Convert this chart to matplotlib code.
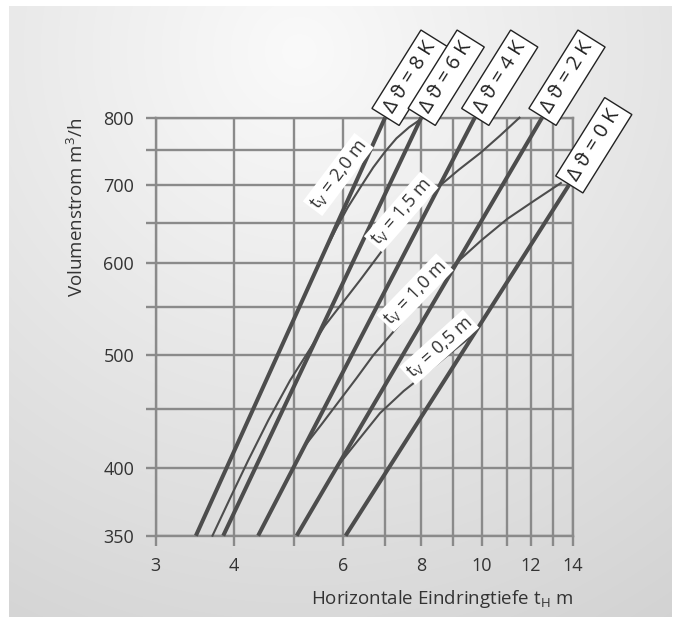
import numpy as np
import matplotlib.pyplot as plt
import matplotlib.ticker as mticker

plt.rcParams.update({
    "font.family": ["Open Sans", "DejaVu Sans"],
    "mathtext.default": "regular",
    "font.size": 13,
})

GRID_GREY = "#8a8a8a"
LINE_GREY = "#4d4d4d"
TEXT_GREY = "#333333"

# Temperature difference lines, straight in log-log: t_H [m] vs V [m3/h]
DT_LABELS = ["Δ ϑ = 8 K", "Δ ϑ = 6 K", "Δ ϑ = 4 K", "Δ ϑ = 2 K", "Δ ϑ = 0 K"]
DT_TH = [[3.48, 7.0], [3.85, 8.0], [4.38, 9.75], [5.05, 12.5], [6.05, 13.8]]
DT_V = [[350, 800], [350, 800], [350, 800], [350, 800], [350, 700]]

# Vertical penetration curves
TV_LABELS = ["t$_V$ = 2,0 m", "t$_V$ = 1,5 m", "t$_V$ = 1,0 m", "t$_V$ = 0,5 m"]
TV_TH = [
    [5.6, 5.85, 6.1, 6.4, 6.7, 7.0, 7.3, 7.65, 7.97],
    [3.70, 3.95, 4.22, 4.55, 4.93, 5.6, 6.38, 7.4, 8.48, 9.2, 9.95, 10.7, 11.5],
    [5.24, 5.55, 5.93, 6.3, 6.7, 7.8, 9.1, 10.0, 11.0, 12.2, 13.4],
    [5.86, 6.3, 6.87, 7.5, 8.2, 8.9, 9.7],
]
TV_V = [
    [614, 643, 670, 698, 725, 748, 768, 785, 797],
    [350, 377, 406, 440, 476, 530, 580, 645, 696, 722, 746, 772, 800],
    [420, 437, 458, 478, 500, 550, 600, 628, 655, 680, 703],
    [401, 421, 446, 466, 484, 502, 521],
]

X_TICKS = [3, 4, 5, 6, 7, 8, 9, 10, 11, 12, 13, 14]
X_LABELED = [3, 4, 6, 8, 10, 12, 14]
Y_TICKS = [350, 400, 450, 500, 550, 600, 650, 700, 750, 800]
Y_LABELED = [350, 400, 500, 600, 700, 800]

# label placement (t_H, V, rotation)
TV_LABEL_POS = [(5.89, 715, 53), (7.43, 664, 49), (7.82, 566, 46), (8.55, 508, 42)]
BOX_ANGLE = 58

fig = plt.figure(figsize=(6.8, 6.23), dpi=100, facecolor="white")

# soft grey backdrop panel
bg = fig.add_axes([9 / 680, 6 / 623, 663 / 680, 611 / 623], zorder=-5)
h, w = 611, 663
yy, xx = np.mgrid[0:h, 0:w]
dist = np.hypot(xx - 290, yy - 45)
shade = np.clip(250 - 0.058 * dist, 200, 250) / 255.0
bg.imshow(np.dstack([shade] * 3), aspect="auto", interpolation="bilinear")
bg.set_axis_off()

ax = fig.add_axes([155.7 / 680, 1 - 535.7 / 623, 417 / 680, 418 / 623])
ax.set_facecolor("none")
ax.set_xscale("log")
ax.set_yscale("log")
ax.set_xlim(3, 14)
ax.set_ylim(350, 800)

ax.xaxis.set_major_locator(mticker.FixedLocator(X_TICKS))
ax.yaxis.set_major_locator(mticker.FixedLocator(Y_TICKS))
ax.xaxis.set_minor_locator(mticker.NullLocator())
ax.yaxis.set_minor_locator(mticker.NullLocator())
ax.xaxis.set_major_formatter(mticker.FuncFormatter(
    lambda v, _: f"{v:g}" if round(v) in X_LABELED else ""))
ax.yaxis.set_major_formatter(mticker.FuncFormatter(
    lambda v, _: f"{v:g}" if round(v) in Y_LABELED else ""))
ax.tick_params(axis="both", which="major", direction="out", length=7.5,
               width=1.7, color=GRID_GREY, labelcolor=TEXT_GREY,
               labelsize=13, pad=8)
ax.grid(True, color=GRID_GREY, linewidth=1.7, zorder=1)
ax.set_axisbelow(True)
for sp in ax.spines.values():
    sp.set_color(GRID_GREY)
    sp.set_linewidth(1.7)

for th, v in zip(DT_TH, DT_V):
    ax.plot(th, v, color=LINE_GREY, linewidth=2.9, solid_capstyle="butt",
            zorder=3, clip_on=False)

for th, v in zip(TV_TH, TV_V):
    ax.plot(th, v, color=LINE_GREY, linewidth=1.5, zorder=3, clip_on=False)

for label, (x, y, rot) in zip(TV_LABELS, TV_LABEL_POS):
    ax.text(x, y, label, rotation=rot, rotation_mode="anchor",
            ha="center", va="center", fontsize=13, color=TEXT_GREY, zorder=5,
            bbox=dict(boxstyle="square,pad=0.12", fc="white", ec="none"))

ang = np.radians(BOX_ANGLE)
for label, th, v in zip(DT_LABELS, DT_TH, DT_V):
    ax.annotate(label, xy=(th[-1], v[-1]),
                xytext=(5 * np.cos(ang), 5 * np.sin(ang)),
                textcoords="offset points", rotation=BOX_ANGLE,
                rotation_mode="anchor", ha="left", va="center", fontsize=14.5,
                color="#222222", zorder=6, annotation_clip=False,
                bbox=dict(boxstyle="square,pad=0.3", fc="white", ec="#222222",
                          lw=1.0))

ax.set_xlabel("Horizontale Eindringtiefe t$_H$ m", loc="right", fontsize=13.5,
              color=TEXT_GREY, labelpad=9)
ax.set_ylabel("Volumenstrom m$^3$/h", loc="top", fontsize=13.5,
              color=TEXT_GREY, labelpad=12)

fig.savefig("out.png", dpi=100, facecolor="white")
